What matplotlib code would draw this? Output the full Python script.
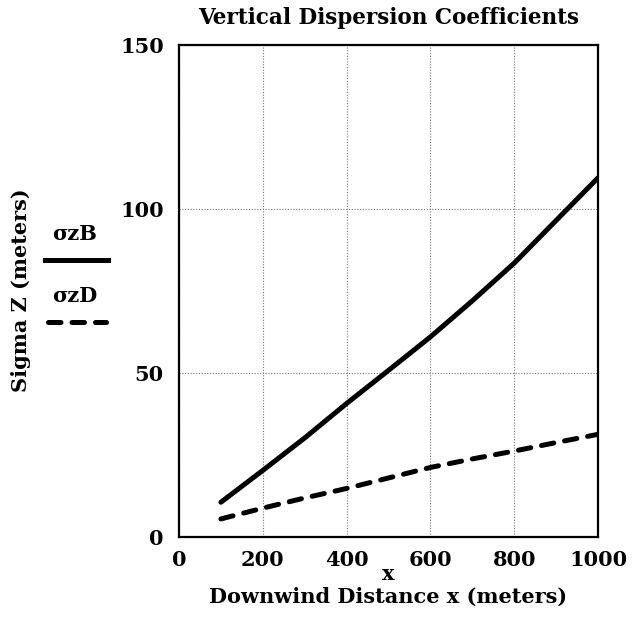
import matplotlib
matplotlib.use("Agg")
import matplotlib.pyplot as plt
from matplotlib.lines import Line2D

# Data
distance = [100, 200, 300, 400, 500, 600, 700, 800, 900, 1000]
sigma_zB = [10.6, 20.3, 30.2, 40.7, 50.8, 61.0, 72.0, 83.5, 96.5, 109.5]
sigma_zD = [5.5, 8.8, 11.9, 14.8, 18.0, 21.2, 23.8, 26.2, 28.8, 31.3]
x_ticks = [0, 200, 400, 600, 800, 1000]
y_ticks = [0, 50, 100, 150]

plt.rcParams['font.family'] = ['DejaVu Serif']
plt.rcParams['font.weight'] = 'bold'

FS = 15
DASH = (2.5, 2.2)
W, H = 635, 635
fig = plt.figure(figsize=(6.35, 6.35), dpi=100)
ax = fig.add_axes([179 / W, 1 - 537 / H, (598 - 179) / W, (537 - 45) / H])

ax.plot(distance, sigma_zB, color='black', lw=3.6, solid_capstyle='round')
ax.plot(distance, sigma_zD, color='black', lw=3.6, dashes=DASH,
        dash_capstyle='round')

ax.set_xlim(0, 1000)
ax.set_ylim(0, 150)
ax.set_xticks(x_ticks)
ax.set_yticks(y_ticks)
ax.tick_params(axis='x', length=0, labelsize=FS, pad=9)
ax.tick_params(axis='y', length=0, labelsize=FS, pad=11)
for lab in ax.get_xticklabels() + ax.get_yticklabels():
    lab.set_fontweight('bold')
ax.grid(True, color='#777777', linestyle=(0, (1, 1.5)), linewidth=0.8)
for s in ax.spines.values():
    s.set_linewidth(1.6)
    s.set_color('black')

fig.text((179 + 598) / 2 / W, 1 - 18 / H, 'Vertical Dispersion Coefficients',
         ha='center', va='center', fontsize=15.5, fontweight='bold')
fig.text((179 + 598) / 2 / W, 1 - 574 / H, 'x', ha='center', va='center',
         fontsize=FS, fontweight='bold')
fig.text((179 + 598) / 2 / W, 1 - 597 / H, 'Downwind Distance x (meters)',
         ha='center', va='center', fontsize=FS, fontweight='bold')
fig.text(21 / W, 1 - 290 / H, 'Sigma Z (meters)', ha='center', va='center',
         rotation=90, fontsize=FS, fontweight='bold')

# Legend (labels above line samples)
fig.text(75 / W, 1 - 234 / H, 'σzB', ha='center', va='center',
         fontsize=FS, fontweight='bold')
fig.add_artist(Line2D([45 / W, 108 / W], [1 - 260 / H, 1 - 260 / H],
                      transform=fig.transFigure, color='black', lw=3.6))
fig.text(75 / W, 1 - 296 / H, 'σzD', ha='center', va='center',
         fontsize=FS, fontweight='bold')
fig.add_artist(Line2D([48 / W, 106 / W], [1 - 322 / H, 1 - 322 / H],
                      transform=fig.transFigure, color='black', lw=3.6,
                      dashes=DASH, dash_capstyle='round'))

fig.savefig('out.png', dpi=100)
